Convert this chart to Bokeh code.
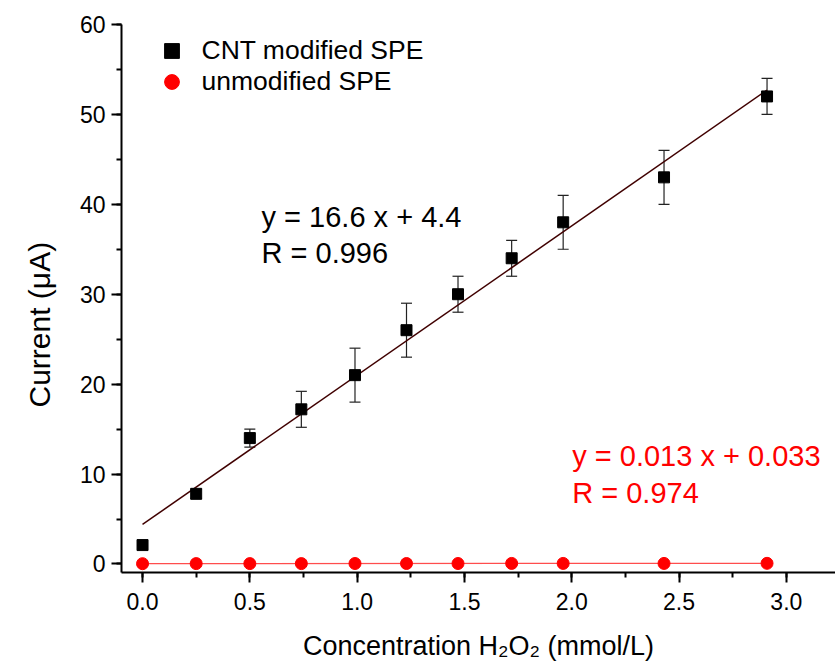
from bokeh.plotting import figure
from bokeh.models import (ColumnDataSource, Whisker, TeeHead, Label, Legend, LegendItem,
                          SingleIntervalTicker, PrintfTickFormatter, Range1d, Title)
from bokeh.embed import file_html
from bokeh.resources import INLINE

# ---- data ----
concentration = [0.0, 0.25, 0.5, 0.74, 0.99, 1.23, 1.47, 1.72, 1.96, 2.43, 2.91]
cnt_current = [2.1, 7.8, 14.0, 17.2, 21.0, 26.0, 30.0, 34.0, 38.0, 43.0, 52.0]
cnt_error = [0.0, 0.5, 1.0, 2.0, 3.0, 3.0, 2.0, 2.0, 3.0, 3.0, 2.0]
unmod_current = [0.03, 0.04, 0.04, 0.04, 0.05, 0.05, 0.05, 0.06, 0.06, 0.06, 0.07]
cnt_slope, cnt_intercept, cnt_r = 16.6, 4.4, 0.996
unmod_slope, unmod_intercept, unmod_r = 0.013, 0.033, 0.974
series_names = ["CNT modified SPE", "unmodified SPE"]
x_title = "Concentration H\u2082O\u2082 (mmol/L)"
y_title = "Current (\u03bcA)"

FONT = "Liberation Sans"

p = figure(frame_width=714, frame_height=548,
           x_range=Range1d(-0.098, 3.229), y_range=Range1d(-0.95, 60),
           output_backend="svg", toolbar_location=None,
           min_border_left=121, min_border_top=24, min_border_right=0, min_border_bottom=90)
p.outline_line_color = None
p.xgrid.visible = False
p.ygrid.visible = False
p.background_fill_color = "white"

# axes
for ax in (p.xaxis[0], p.yaxis[0]):
    ax.axis_line_width = 2
    ax.major_tick_line_width = 2
    ax.minor_tick_line_width = 2
    ax.major_tick_out = 10
    ax.major_tick_in = 0
    ax.minor_tick_out = 5
    ax.minor_tick_in = 0
    ax.major_label_text_font = FONT
    ax.major_label_text_font_size = "23px"
    ax.major_label_text_color = "black"
    ax.axis_label_text_font = FONT
    ax.axis_label_text_font_style = "normal"
    ax.axis_label_text_color = "black"

p.xaxis.major_label_standoff = 10
p.yaxis.major_label_standoff = 6
p.xaxis.ticker = SingleIntervalTicker(interval=0.5, num_minor_ticks=2)
p.xaxis.formatter = PrintfTickFormatter(format="%.1f")
p.yaxis.ticker = SingleIntervalTicker(interval=10, num_minor_ticks=2)
p.xaxis.axis_label = x_title
p.xaxis.axis_label_text_font_size = "27px"
p.xaxis.axis_label_standoff = 18

# y axis title, offset along the axis like the reference
p.add_layout(Title(text=y_title, align="left", offset=165, vertical_align="middle",
                   text_font=FONT, text_font_size="30px", text_font_style="normal",
                   text_color="black", standoff=39), "left")

# fit lines
x0, x1 = min(concentration), max(concentration)
p.line([x0, x1], [cnt_slope * x0 + cnt_intercept, cnt_slope * x1 + cnt_intercept],
       line_color="#400000", line_width=1.5)
p.line([x0, x1], [unmod_slope * x0 + unmod_intercept, unmod_slope * x1 + unmod_intercept],
       line_color="#ff2020", line_width=1.3, line_alpha=0.8)

src = ColumnDataSource(dict(
    x=concentration, y=cnt_current,
    upper=[v + e for v, e in zip(cnt_current, cnt_error)],
    lower=[v - e for v, e in zip(cnt_current, cnt_error)],
    y2=unmod_current))

w = Whisker(base="x", upper="upper", lower="lower", source=src, dimension="height",
            line_color="#222222", line_width=1.2,
            upper_head=TeeHead(size=11, line_color="#222222", line_width=1.2),
            lower_head=TeeHead(size=11, line_color="#222222", line_width=1.2))
p.add_layout(w)

r_cnt = p.scatter("x", "y", source=src, marker="square", size=11,
                  fill_color="black", line_color="black")
r_un = p.scatter("x", "y2", source=src, marker="circle", size=12,
                 fill_color="#ff0000", line_color="#ff0000")

# legends (one item each)
for r, name, vy in ((r_cnt, series_names[0], 503.5), (r_un, series_names[1], 471.8)):
    lg = Legend(items=[LegendItem(label=name, renderers=[r])], location=(31.5, vy),
                glyph_width=37, glyph_height=37, label_standoff=12,
                label_text_font=FONT, label_text_font_size="26.5px",
                label_text_color="black",
                padding=0, margin=0, border_line_color=None,
                background_fill_alpha=0, spacing=0)
    p.add_layout(lg)

# equation annotations
eq_font = "29px"
p.add_layout(Label(x=0.5545, y=38.56, text=f"y = {cnt_slope} x + {cnt_intercept}",
                   text_font=FONT, text_font_size=eq_font, text_color="black",
                   text_baseline="alphabetic"))
p.add_layout(Label(x=0.5545, y=34.58, text=f"R = {cnt_r}",
                   text_font=FONT, text_font_size=eq_font, text_color="black",
                   text_baseline="alphabetic"))
p.add_layout(Label(x=2.0023, y=11.96, text=f"y = {unmod_slope} x + {unmod_intercept}",
                   text_font=FONT, text_font_size=eq_font, text_color="#ff0000",
                   text_baseline="alphabetic"))
p.add_layout(Label(x=2.0023, y=7.88, text=f"R = {unmod_r}",
                   text_font=FONT, text_font_size=eq_font, text_color="#ff0000",
                   text_baseline="alphabetic"))

open("out.html", "w").write(file_html(p, INLINE))
